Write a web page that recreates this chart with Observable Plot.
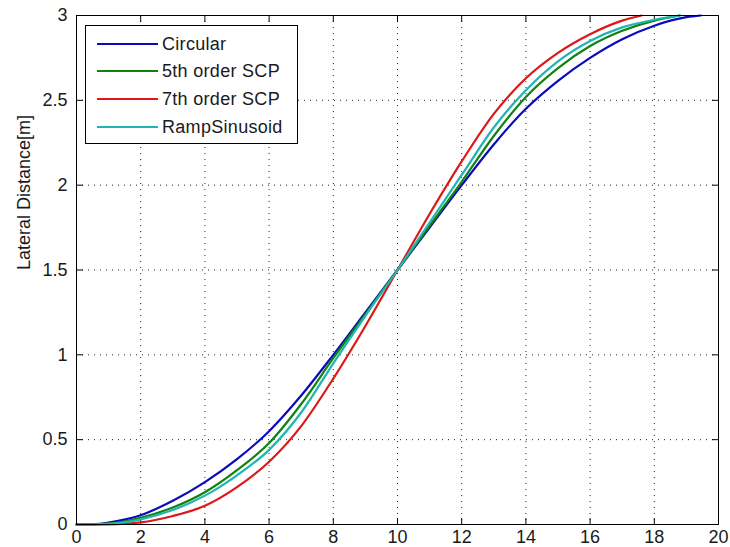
<!DOCTYPE html>
<html>
<head>
<meta charset="utf-8">
<script src="https://cdn.jsdelivr.net/npm/d3@7"></script>
<script src="https://cdn.jsdelivr.net/npm/@observablehq/plot@0.6"></script>
<style>
  html, body { margin: 0; padding: 0; background: #fff; overflow: hidden; }
  #chart { position: relative; width: 730px; height: 547px; font-family: "Liberation Sans", Arial, sans-serif; }
  #chart svg { position: absolute; left: 0; top: 0; }
  #legend { position: absolute; left: 85px; top: 25px; width: 213px; height: 119px; box-sizing: border-box;
            background: #fff; border: 1px solid #000; }
  .row { position: absolute; left: 0; height: 0; }
  .swatch { position: absolute; left: 11px; width: 61px; height: 2px; top: -1px; }
  .lab { position: absolute; left: 76px; top: -11px; font-size: 18px; line-height: 22px; color: #1a1a1a; white-space: nowrap; letter-spacing: 0.3px; }
</style>
</head>
<body>
<div id="chart"></div>
<script>
// ---- data ----
const seriesNames  = ["Circular", "5th order SCP", "7th order SCP", "RampSinusoid"];
const seriesColors = ["#0b0bbc", "#0f820f", "#dc1818", "#20b4b4"];

const circularX = [0, 0.5, 1, 2, 3, 4, 5, 6, 7, 8, 9, 10, 11, 12, 13, 14, 15, 16, 17, 18, 19, 19.45];
const circularY = [0, 0, 0.012, 0.055, 0.14, 0.25, 0.385, 0.55, 0.76, 1.0, 1.25, 1.5, 1.75, 2.0, 2.24, 2.45, 2.615, 2.75, 2.86, 2.94, 2.99, 3];

const scp5X = [0, 1, 2, 3, 4, 5, 6, 7, 8, 9, 10, 11, 12, 13, 14, 15, 16, 17, 18, 18.8];
const scp5Y = [0, 0.006, 0.04, 0.1, 0.19, 0.32, 0.48, 0.71, 0.98, 1.24, 1.5, 1.76, 2.02, 2.29, 2.52, 2.69, 2.82, 2.91, 2.97, 3];

const scp7X = [0, 1, 2, 3, 4, 5, 6, 7, 8, 9, 10, 11, 12, 13, 14, 15, 16, 17, 17.6];
const scp7Y = [0, 0.001, 0.012, 0.05, 0.11, 0.22, 0.37, 0.58, 0.86, 1.17, 1.5, 1.83, 2.14, 2.42, 2.63, 2.78, 2.89, 2.97, 3];

const rampX = [0, 1, 2, 3, 4, 5, 6, 7, 8, 9, 10, 11, 12, 13, 14, 15, 16, 17, 18, 18.8];
const rampY = [0, 0.004, 0.03, 0.085, 0.17, 0.29, 0.44, 0.66, 0.95, 1.23, 1.5, 1.78, 2.06, 2.34, 2.56, 2.73, 2.85, 2.93, 2.975, 3];

const xTicks = [0, 2, 4, 6, 8, 10, 12, 14, 16, 18, 20];
const xTickLabels = ["0", "2", "4", "6", "8", "10", "12", "14", "16", "18", "20"];
const yTicks = [0, 0.5, 1, 1.5, 2, 2.5, 3];
const yTickLabels = ["0", "0.5", "1", "1.5", "2", "2.5", "3"];
const yLabel = "Lateral Distance[m]";

// ---- build table ----
const seriesXs = [circularX, scp5X, scp7X, rampX];
const seriesYs = [circularY, scp5Y, scp7Y, rampY];
const rows = [];
seriesNames.forEach((name, s) => {
  seriesXs[s].forEach((x, i) => rows.push({series: name, x, y: seriesYs[s][i]}));
});

const tickShape = { draw(ctx, l) { ctx.moveTo(0, 0); ctx.lineTo(0, -l); } };
const tickOpts = { length: 6, anchor: "start", shape: tickShape, stroke: "#000", strokeWidth: 1 };

const gridOpts = { stroke: "#000", strokeOpacity: 0.85, strokeWidth: 1, strokeDasharray: "1,5" };

const chart = Plot.plot({
  width: 730,
  height: 547,
  marginLeft: 76,
  marginRight: 12,
  marginTop: 15,
  marginBottom: 23,
  style: { fontFamily: "'Liberation Sans', Arial, sans-serif", fontSize: "18px", color: "#1a1a1a", background: "#fff" },
  x: { domain: [0, 20] },
  y: { domain: [0, 3] },
  color: { domain: seriesNames, range: seriesColors },
  marks: [
    Plot.gridX(xTicks.slice(1, -1), gridOpts),
    Plot.gridY(yTicks.slice(1, -1), gridOpts),
    Plot.axisX(xTicks, { tickSize: 0, tickPadding: 6, label: null, fontSize: 18, tickFormat: (d, i) => xTickLabels[i] }),
    Plot.axisY(yTicks, { tickSize: 0, tickPadding: 9, label: null, fontSize: 18, tickFormat: (d, i) => yTickLabels[i] }),
    Plot.vector(xTicks, { x: d => d, y: () => 0, rotate: 0, ...tickOpts }),
    Plot.vector(xTicks, { x: d => d, y: () => 3, rotate: 180, ...tickOpts }),
    Plot.vector(yTicks, { x: () => 0, y: d => d, rotate: 90, ...tickOpts }),
    Plot.vector(yTicks, { x: () => 20, y: d => d, rotate: -90, ...tickOpts }),
    Plot.line(rows, { x: "x", y: "y", z: "series", stroke: "series", strokeWidth: 2.2, curve: "monotone-x" }),
    Plot.frame({ stroke: "#000", strokeWidth: 1 }),
    Plot.text([yLabel], { frameAnchor: "left", dx: -52, rotate: -90, fontSize: 18, fill: "#1a1a1a" })
  ]
});

const container = document.getElementById("chart");
container.appendChild(chart);

// legend overlay inside the axes
const legend = document.createElement("div");
legend.id = "legend";
const rowTops = [18, 45, 73, 101];
seriesNames.forEach((name, i) => {
  const r = document.createElement("div");
  r.className = "row";
  r.style.top = rowTops[i] + "px";
  const sw = document.createElement("div");
  sw.className = "swatch";
  sw.style.background = seriesColors[i];
  const lb = document.createElement("div");
  lb.className = "lab";
  lb.textContent = name;
  r.appendChild(sw);
  r.appendChild(lb);
  legend.appendChild(r);
});
container.appendChild(legend);
</script>
</body>
</html>
